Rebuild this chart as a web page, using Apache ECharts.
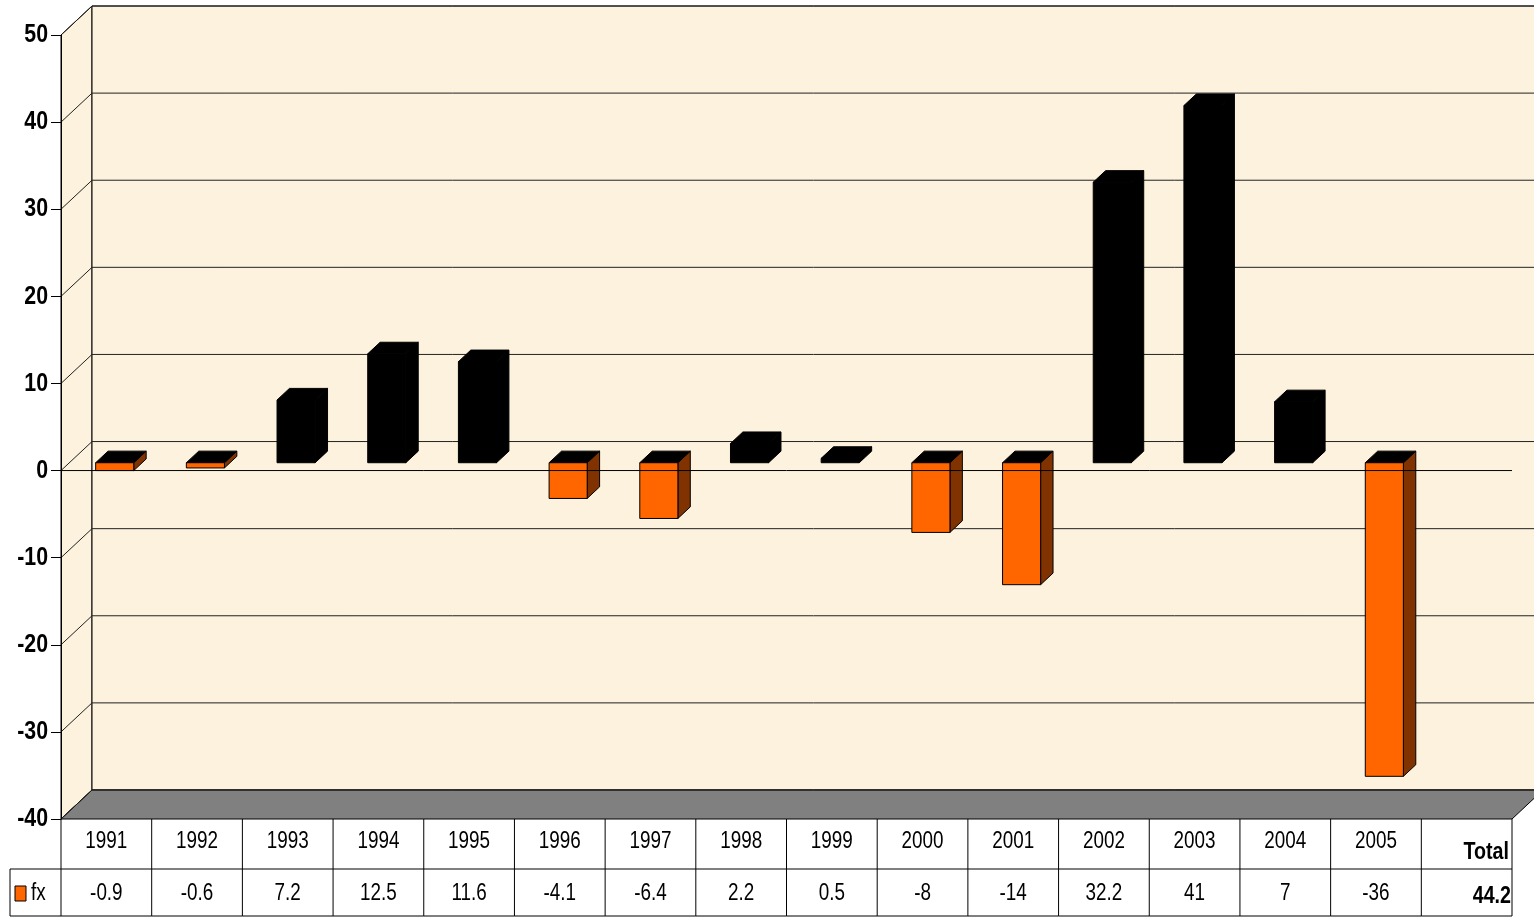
<!DOCTYPE html>
<html>
<head>
<meta charset="utf-8">
<style>
  html, body { margin: 0; padding: 0; background: #fff; }
  #chart { width: 1534px; height: 919px; }
</style>
<script src="https://cdn.jsdelivr.net/npm/echarts@6/dist/echarts.min.js"></script>
</head>
<body>
<div id="chart"></div>
<script>
// data
const years = ['1991', '1992', '1993', '1994', '1995', '1996', '1997', '1998',
  '1999', '2000', '2001', '2002', '2003', '2004', '2005'];
const values = [-0.9, -0.6, 7.2, 12.5, 11.6, -4.1, -6.4, 2.2, 0.5, -8, -14, 32.2, 41, 7, -36];
const totalLabel = 'Total';
const totalValue = 44.2;
const seriesName = 'fx';
const yTicks = [-40, -30, -20, -10, 0, 10, 20, 30, 40, 50];

const categories = years.concat([totalLabel]);

// 3d look
const DX = 31, DY = -29;       // depth offset of the back wall
const F1 = 0.27, F2 = 0.4;     // bar front plane / bar depth (fraction of depth)
const WALL = '#FCF2DD';
const FONT = "'Liberation Sans', Arial, sans-serif";
const NARROW = 0.82;           // squeeze text like Arial Narrow

const chart = echarts.init(document.getElementById('chart'));

function narrowText(text, x, y, align, font) {
  return {
    type: 'text', x: x, y: y, scaleX: NARROW,
    style: { text: text, x: 0, y: 0, align: align, verticalAlign: 'middle', font: font, fill: '#000' }
  };
}

// walls, floor, gridlines and y labels
function renderWalls(params, api) {
  const cs = params.coordSys;
  const L = cs.x, T = cs.y, R = cs.x + cs.width, B = cs.y + cs.height;
  const children = [
    { type: 'polygon', shape: { points: [[L, T], [L + DX, T + DY], [L + DX, B + DY], [L, B]] },
      style: { fill: WALL, stroke: '#000', lineWidth: 1 } },
    { type: 'polygon', shape: { points: [[L + DX, T + DY], [R + DX, T + DY], [R + DX, B + DY], [L + DX, B + DY]] },
      style: { fill: WALL, stroke: '#000', lineWidth: 1 } },
    { type: 'polygon', shape: { points: [[L, B], [L + DX, B + DY], [R + DX, B + DY], [R, B]] },
      style: { fill: '#808080', stroke: '#000', lineWidth: 1 } }
  ];
  yTicks.forEach(v => {
    const y = api.coord([0, v])[1];
    children.push({ type: 'polyline', shape: { points: [[L, y], [L + DX, y + DY], [R + DX, y + DY]] },
      style: { stroke: '#222', fill: null, lineWidth: 1 } });
    children.push(narrowText(String(v), L - 13, y, 'right', 'bold 26px ' + FONT));
  });
  return { type: 'group', children };
}

// pseudo 3d bars
function renderBar(params, api) {
  const i = api.value(0), v = api.value(1);
  if (v == null || isNaN(v)) return;
  const band = api.size([1, 0])[0];
  const w = band * 0.42;
  const ox = DX * F1, oy = DY * F1;
  const dx = DX * F2, dy = DY * F2;
  const cx = api.coord([i, 0])[0] + ox;
  const y0 = api.coord([i, 0])[1] + oy;
  const yv = api.coord([i, v])[1] + oy;
  const top = Math.min(y0, yv), bot = Math.max(y0, yv);
  const xl = cx - w / 2, xr = cx + w / 2;
  const neg = v < 0;
  const front = neg ? '#FF6600' : '#000';
  const side = neg ? '#803300' : '#000';
  const st = { stroke: '#000', lineWidth: 1 };
  return {
    type: 'group',
    children: [
      { type: 'polygon', shape: { points: [[xr, top], [xr + dx, top + dy], [xr + dx, bot + dy], [xr, bot]] },
        style: Object.assign({ fill: side }, st) },
      { type: 'polygon', shape: { points: [[xl, top], [xl + dx, top + dy], [xr + dx, top + dy], [xr, top]] },
        style: Object.assign({ fill: '#000' }, st) },
      { type: 'rect', shape: { x: xl, y: top, width: w, height: bot - top },
        style: Object.assign({ fill: front }, st) }
    ]
  };
}

// data table under the plot
function renderTable(params, api) {
  const cs = params.coordSys;
  const B = cs.y + cs.height;
  const i = api.value(0);
  const band = api.size([1, 0])[0];
  const cx = api.coord([i, 0])[0];
  const left = cx - band / 2, right = cx + band / 2;
  const isTotal = i === categories.length - 1;
  const ln = { stroke: '#000', lineWidth: 1 };
  const children = [
    { type: 'line', shape: { x1: right, y1: B, x2: right, y2: B + 97 }, style: ln },
    { type: 'line', shape: { x1: left, y1: B + 50, x2: right, y2: B + 50 }, style: ln },
    { type: 'line', shape: { x1: left, y1: B + 97, x2: right, y2: B + 97 }, style: ln }
  ];
  if (i === 0) {
    children.push(
      { type: 'line', shape: { x1: left, y1: B, x2: left, y2: B + 97 }, style: ln },
      { type: 'line', shape: { x1: left - 51, y1: B + 50, x2: left, y2: B + 50 }, style: ln },
      { type: 'line', shape: { x1: left - 51, y1: B + 97, x2: left, y2: B + 97 }, style: ln },
      { type: 'line', shape: { x1: left - 51, y1: B + 50, x2: left - 51, y2: B + 97 }, style: ln },
      { type: 'rect', shape: { x: left - 46, y: B + 67, width: 11, height: 15 },
        style: { fill: '#FF6600', stroke: '#000', lineWidth: 1 } },
      narrowText(seriesName, left - 30, B + 75, 'left', '23px ' + FONT)
    );
  }
  if (isTotal) {
    children.push(
      narrowText(categories[i], right - 3, B + 33, 'right', 'bold 24px ' + FONT),
      narrowText(String(totalValue), right - 1, B + 77, 'right', 'bold 24px ' + FONT)
    );
  } else {
    children.push(
      narrowText(categories[i], cx, B + 23, 'center', '23px ' + FONT),
      narrowText(String(values[i]), cx, B + 75, 'center', '23px ' + FONT)
    );
  }
  return { type: 'group', children };
}

// front zero line drawn over the bars
function renderZero(params, api) {
  const cs = params.coordSys;
  const y = api.coord([0, 0])[1];
  return { type: 'line', shape: { x1: cs.x, y1: y, x2: cs.x + cs.width, y2: y },
    style: { stroke: '#000', lineWidth: 1 } };
}

const option = {
  animation: false,
  backgroundColor: '#fff',
  grid: { left: 61, right: 22, top: 35, bottom: 100 },
  xAxis: {
    type: 'category',
    data: categories,
    show: false
  },
  yAxis: {
    type: 'value',
    min: -40,
    max: 50,
    interval: 10,
    z: 5,
    axisLine: { show: true, lineStyle: { color: '#000', width: 1 } },
    axisTick: { show: true, length: 10, lineStyle: { color: '#000' } },
    axisLabel: { show: false },
    splitLine: { show: false }
  },
  series: [
    { type: 'custom', name: 'walls', z: 1, renderItem: renderWalls, data: [[0, 0]], silent: true },
    { type: 'custom', name: seriesName, z: 3, renderItem: renderBar,
      data: values.map((v, i) => [i, v]) },
    { type: 'custom', name: 'zero', z: 4, renderItem: renderZero, data: [[0, 0]], silent: true },
    { type: 'custom', name: 'table', z: 4, renderItem: renderTable,
      data: categories.map((c, i) => [i, 0]), silent: true }
  ]
};

chart.setOption(option);
window.addEventListener('resize', () => chart.resize());
</script>
</body>
</html>
